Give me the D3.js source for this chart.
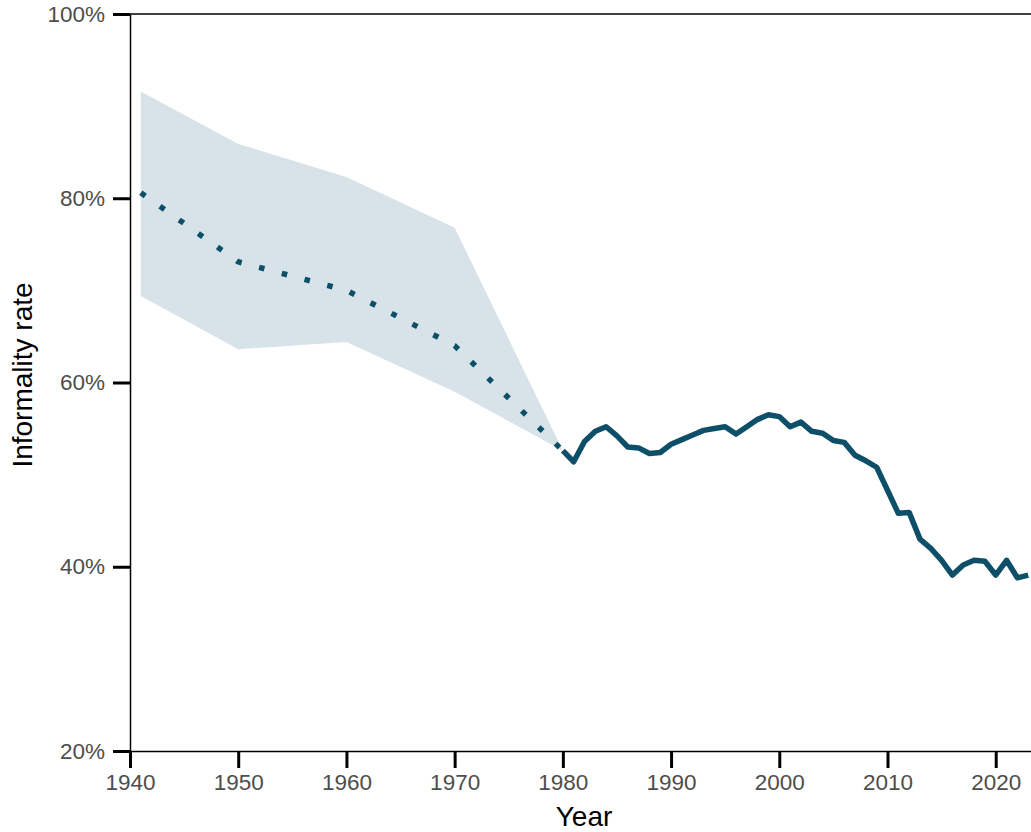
<!DOCTYPE html>
<html>
<head>
<meta charset="utf-8">
<script src="https://cdn.jsdelivr.net/npm/d3@7"></script>
<style>
  html, body { margin: 0; padding: 0; background: #fff; overflow: hidden; }
  svg { display: block; }
  text { font-family: "Liberation Sans", Arial, sans-serif; }
</style>
</head>
<body>
<svg id="chart" width="1031" height="832"></svg>
<script>
// Historical estimates (dotted, with uncertainty band)
const histYears = [1941, 1950, 1960, 1970, 1980];
const histRate  = [80.6, 73.1, 70.0, 64.0, 52.6];
const histLow   = [69.4, 63.6, 64.4, 59.0, 52.6];
const histHigh  = [91.6, 85.9, 82.3, 76.8, 52.6];

// Annual series (solid)
const years = [1980, 1981, 1982, 1983, 1984, 1985, 1986, 1987, 1988, 1989,
               1990, 1991, 1992, 1993, 1994, 1995, 1996, 1997, 1998, 1999,
               2000, 2001, 2002, 2003, 2004, 2005, 2006, 2007, 2008, 2009,
               2010, 2011, 2012, 2013, 2014, 2015, 2016, 2017, 2018, 2019,
               2020, 2021, 2022, 2023];
const rate  = [52.6, 51.4, 53.6, 54.7, 55.2, 54.2, 53.0, 52.9, 52.3, 52.4,
               53.3, 53.8, 54.3, 54.8, 55.0, 55.2, 54.4, 55.2, 56.0, 56.5,
               56.3, 55.2, 55.7, 54.7, 54.5, 53.7, 53.5, 52.1, 51.5, 50.8,
               48.3, 45.8, 45.9, 43.0, 42.0, 40.7, 39.1, 40.2, 40.7, 40.6,
               39.1, 40.7, 38.8, 39.1];

const yTicks = [20, 40, 60, 80, 100];
const xTicks = [1940, 1950, 1960, 1970, 1980, 1990, 2000, 2010, 2020];

const lineColor = "#0d4f68";
const bandColor = "#d7e3e8";
const tickGray = "#4d4d4d";

const svg = d3.select("#chart");
const padLeft = 130, padTop = 14, padBottom = 751;
const padRight = 1039;

const x = d3.scaleLinear().domain([1940, 2024]).range([padLeft, padRight]);
const y = d3.scaleLinear().domain([20, 100]).range([padBottom, padTop]);

const hist = histYears.map((yr, i) => ({ yr, v: histRate[i], lo: histLow[i], hi: histHigh[i] }));
const annual = years.map((yr, i) => ({ yr, v: rate[i] }));

// Uncertainty band
svg.append("path")
  .datum(hist)
  .attr("fill", bandColor)
  .attr("d", d3.area().x(d => x(d.yr)).y0(d => y(d.lo)).y1(d => y(d.hi)));

// Dotted historical estimate
svg.append("path")
  .datum(hist)
  .attr("fill", "none")
  .attr("stroke", lineColor)
  .attr("stroke-width", 5.5)
  .attr("stroke-dasharray", "5.5,18")
  .attr("d", d3.line().x(d => x(d.yr)).y(d => y(d.v)));

// Solid annual series
svg.append("path")
  .datum(annual)
  .attr("fill", "none")
  .attr("stroke", lineColor)
  .attr("stroke-width", 5.5)
  .attr("stroke-linejoin", "round")
  .attr("d", d3.line().x(d => x(d.yr)).y(d => y(d.v)));

// Panel top border
svg.append("line")
  .attr("x1", padLeft).attr("x2", padRight)
  .attr("y1", padTop).attr("y2", padTop)
  .attr("stroke", "#000").attr("stroke-width", 1.5);

// Y axis
const yAxis = svg.append("g")
  .attr("transform", `translate(${padLeft},0)`)
  .call(d3.axisLeft(y).tickValues(yTicks).tickFormat(d => d + "%").tickSize(17).tickPadding(8).tickSizeOuter(0));
yAxis.select(".domain").attr("stroke", "#000").attr("stroke-width", 1.5);
yAxis.selectAll(".tick line").attr("stroke", "#000").attr("stroke-width", 3);
yAxis.selectAll(".tick text")
  .attr("fill", tickGray)
  .attr("font-size", 22.5)
  .attr("font-family", "Liberation Sans, Arial, sans-serif");

// X axis
const xAxis = svg.append("g")
  .attr("transform", `translate(0,${padBottom})`)
  .call(d3.axisBottom(x).tickValues(xTicks).tickFormat(d3.format("d")).tickSize(17).tickPadding(6).tickSizeOuter(0));
xAxis.select(".domain").attr("stroke", "#000").attr("stroke-width", 1.5);
xAxis.selectAll(".tick line").attr("stroke", "#000").attr("stroke-width", 3);
xAxis.selectAll(".tick text")
  .attr("fill", tickGray)
  .attr("font-size", 22.5)
  .attr("font-family", "Liberation Sans, Arial, sans-serif");

// Axis titles
svg.append("text")
  .attr("x", 584)
  .attr("y", 826)
  .attr("text-anchor", "middle")
  .attr("font-size", 28)
  .attr("fill", "#000")
  .text("Year");

svg.append("text")
  .attr("transform", "translate(32,375) rotate(-90)")
  .attr("text-anchor", "middle")
  .attr("font-size", 28)
  .attr("fill", "#000")
  .text("Informality rate");
</script>
</body>
</html>
